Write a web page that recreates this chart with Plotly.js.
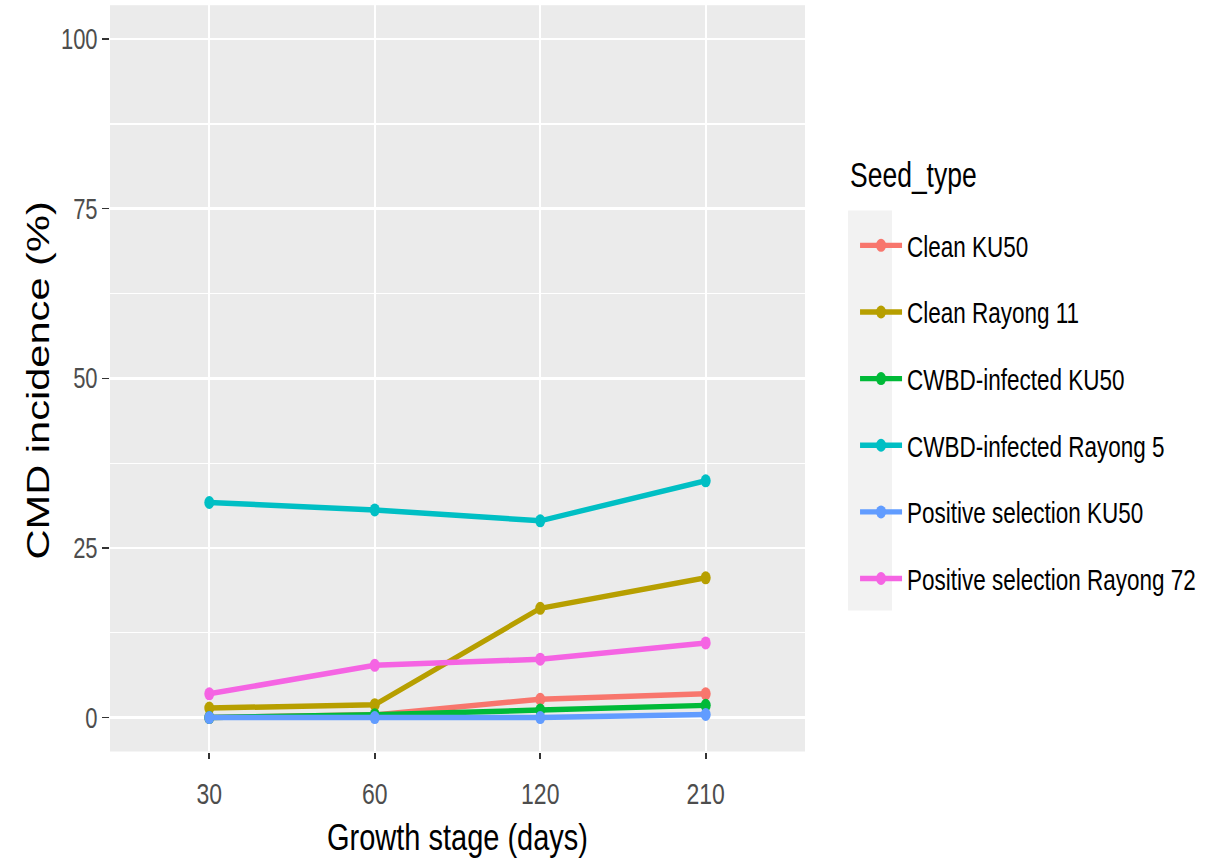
<!DOCTYPE html>
<html>
<head>
<meta charset="utf-8">
<script src="https://cdn.plot.ly/plotly-3.0.1.min.js"></script>
<style>
  html, body { margin: 0; padding: 0; background: #ffffff; overflow: hidden; }
  #wrap { width: 1222px; height: 862px; overflow: hidden; }
  #chart { width: 1222px; height: 663px; transform-origin: 0 0; transform: scaleY(1.3001508); }
</style>
</head>
<body>
<div id="wrap"><div id="chart"></div></div>
<script>
// Data
const days = ["30", "60", "120", "210"];
const seedTypes = ["Clean KU50", "Clean Rayong 11", "CWBD-infected KU50",
                   "CWBD-infected Rayong 5", "Positive selection KU50", "Positive selection Rayong 72"];
const cleanKU50 = [0, 0.4, 2.7, 3.5];
const cleanRayong11 = [1.4, 1.9, 16.1, 20.6];
const cwbdKU50 = [0, 0.4, 1.1, 1.8];
const cwbdRayong5 = [31.7, 30.6, 29.0, 34.9];
const posKU50 = [0, 0, 0, 0.45];
const posRayong72 = [3.5, 7.7, 8.6, 11.0];
const yTicks = [0, 25, 50, 75, 100];
const colors = ["#F8766D", "#B79F00", "#00BA38", "#00BFC4", "#619CFF", "#F564E3"];

const series = [cleanKU50, cleanRayong11, cwbdKU50, cwbdRayong5, posKU50, posRayong72];

const traces = series.map((vals, i) => ({
  type: "scatter",
  mode: "lines+markers",
  x: days,
  y: vals,
  name: seedTypes[i],
  legendgroup: "g" + i,
  line: { color: colors[i], width: 4.2 },
  marker: { color: colors[i], size: 10, symbol: "circle" },
  hoverinfo: "x+y+name"
}));

const font = "Liberation Sans, Arial, sans-serif";

const layout = {
  width: 1222,
  height: 663,
  margin: { l: 110, r: 417, t: 4, b: 84.5, pad: 0 },
  paper_bgcolor: "#ffffff",
  plot_bgcolor: "#EBEBEB",
  font: { family: font, color: "#000000" },
  showlegend: true,
  xaxis: {
    type: "category",
    range: [-0.6, 3.6],
    showgrid: true,
    gridcolor: "#ffffff",
    gridwidth: 2,
    zeroline: false,
    showline: false,
    ticks: "outside",
    ticklen: 5,
    tickwidth: 1.6,
    tickcolor: "#333333",
    ticklabelstandoff: 7,
    tickfont: { family: font, size: 23, color: "#4D4D4D" },
    title: { text: "Growth stage (days)", font: { family: font, size: 29, color: "#000000" }, standoff: 10 },
    automargin: false
  },
  yaxis: {
    range: [-5, 105],
    tickvals: yTicks,
    ticktext: yTicks.map(String),
    showgrid: true,
    gridcolor: "#ffffff",
    gridwidth: 1.6,
    zeroline: false,
    showline: false,
    ticks: "outside",
    ticklen: 7,
    tickwidth: 1.3,
    tickcolor: "#333333",
    ticklabelstandoff: 0,
    tickfont: { family: font, size: 22, color: "#4D4D4D" },
    minor: { tick0: 12.5, dtick: 25, showgrid: true, gridcolor: "#ffffff", gridwidth: 0.8 },
    automargin: false
  },
  legend: {
    x: 1.072,
    xanchor: "left",
    y: 0.715,
    yanchor: "top",
    bgcolor: "rgba(0,0,0,0)",
    font: { family: font, size: 22.5, color: "#000000" },
    tracegroupgap: 19,
    itemwidth: 42,
    traceorder: "grouped"
  },
  shapes: [{
    type: "rect", xref: "paper", yref: "paper",
    x0: 1.0619, x1: 1.1252, y0: 0.1888, y1: 0.7248,
    fillcolor: "#F2F2F2", line: { width: 0 }, layer: "below"
  }],
  annotations: [{
    text: "Seed_type", xref: "paper", yref: "paper",
    x: 1.0619, xanchor: "left", y: 0.7724, yanchor: "middle",
    showarrow: false, font: { family: font, size: 26.5, color: "#000000" }
  }, {
    text: "CMD incidence (%)", xref: "paper", yref: "paper",
    x: -0.1043, xanchor: "center", y: 0.4968, yanchor: "middle", textangle: -90,
    showarrow: false, font: { family: font, size: 32, color: "#000000" }
  }]
};

Plotly.newPlot("chart", traces, layout, { displayModeBar: false, staticPlot: false });
</script>
</body>
</html>
